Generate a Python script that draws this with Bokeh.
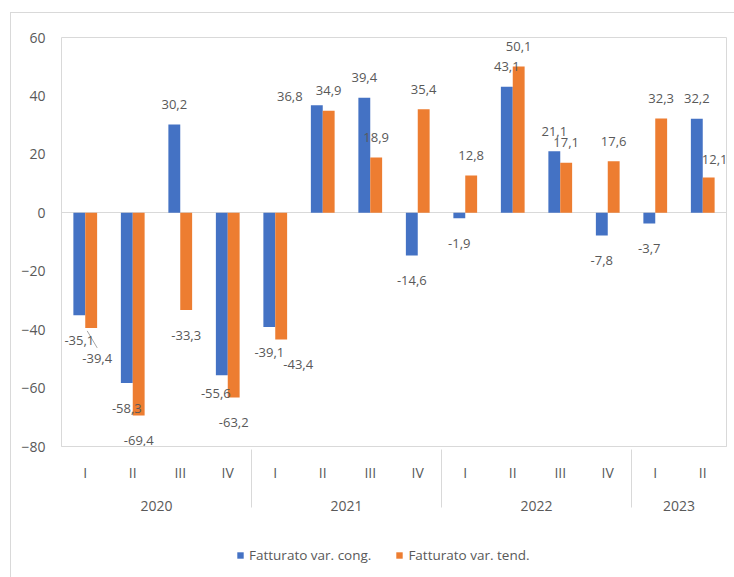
from bokeh.plotting import figure
from bokeh.layouts import column
from bokeh.models import (FactorRange, Range1d, ColumnDataSource, FixedTicker,
                          Legend, LegendItem)
from bokeh.transform import dodge
from bokeh.core.properties import value
from bokeh.embed import file_html
from bokeh.resources import INLINE

# ---- data -------------------------------------------------------------
years = ["2020", "2021", "2022", "2023"]
quarters = [["I", "II", "III", "IV"],
            ["I", "II", "III", "IV"],
            ["I", "II", "III", "IV"],
            ["I", "II"]]
var_cong = [-35.1, -58.3, 30.2, -55.6, -39.1, 36.8, 39.4, -14.6,
            -1.9, 43.1, 21.1, -7.8, -3.7, 32.2]
var_tend = [-39.4, -69.4, -33.3, -63.2, -43.4, 34.9, 18.9, 35.4,
            12.8, 50.1, 17.1, 17.6, 32.3, 12.1]
y_ticks = [-80, -60, -40, -20, 0, 20, 40, 60]
series_names = ["Fatturato var. cong.", "Fatturato var. tend."]

# extra pixel nudges for a few crowded value labels (dx, dy)
cong_nudge = [(0, 0), (0, 0), (0, 0), (-6, -7), (0, 0), (-27, 11), (0, 0),
              (0, 0), (0, 0), (0, 0), (0, 0), (0, 0), (0, 0), (0, 0)]
tend_nudge = [(6, 6), (0, 0), (0, 0), (0, 0), (17, 0), (0, 0), (0, 0),
              (0, 0), (0, 0), (0, 0), (0, 0), (0, 0), (0, 0), (6, 2)]
# value labels of the "tend" series that get a leader line to their bar
tend_leaders = [0]

BLUE = "#4472C4"
ORANGE = "#ED7D31"
TEXT = "#595959"
LINE = "#d9d9d9"
FONT = "Open Sans"

FRAME_W, FRAME_H = 665, 409
Y_MIN, Y_MAX = -80, 60

factors = [(y, q) for y, qs in zip(years, quarters) for q in qs]


def it_fmt(v):
    return f"{v:.1f}".replace(".", ",")


def label_offsets(vals, nudges):
    dx, dy = [], []
    for v, (nx, ny) in zip(vals, nudges):
        dx.append(nx)
        dy.append((-20 if v >= 0 else 25) + ny)
    return dx, dy


cdx, cdy = label_offsets(var_cong, cong_nudge)
tdx, tdy = label_offsets(var_tend, tend_nudge)

source = ColumnDataSource(dict(
    x=factors,
    cong=var_cong, tend=var_tend,
    cong_lbl=[it_fmt(v) for v in var_cong],
    tend_lbl=[it_fmt(v) for v in var_tend],
    cdx=cdx, cdy=cdy, tdx=tdx, tdy=tdy,
))

x_range = FactorRange(*factors, group_padding=0, factor_padding=0,
                      range_padding=0)

# ---- main chart ---------------------------------------------------------
p = figure(x_range=x_range, y_range=Range1d(Y_MIN, Y_MAX),
           frame_width=FRAME_W, frame_height=FRAME_H,
           output_backend="svg", toolbar_location=None,
           min_border_left=50, min_border_top=24, min_border_right=9,
           min_border_bottom=90)

p.outline_line_color = LINE
p.background_fill_color = "white"
p.border_fill_color = "white"

# zero line only
p.xgrid.visible = False
p.ygrid.ticker = FixedTicker(ticks=[0])
p.ygrid.grid_line_color = LINE

p.vbar(x=dodge("x", -0.125, range=x_range), top="cong", width=0.25,
       source=source, fill_color=BLUE, line_color=None)
p.vbar(x=dodge("x", 0.125, range=x_range), top="tend", width=0.25,
       source=source, fill_color=ORANGE, line_color=None)

# leader lines from a bar end towards its displaced value label
ux = len(factors) / FRAME_W          # category units per pixel
uy = (Y_MAX - Y_MIN) / FRAME_H        # value units per pixel
lx0, ly0, lx1, ly1 = [], [], [], []
for i in tend_leaders:
    xc = i + 0.5 + 0.125
    v = var_tend[i]
    lx0.append(xc - 4 * ux)
    ly0.append(v - 3 * uy)
    lx1.append(xc + tdx[i] * ux)
    ly1.append(v - (tdy[i] - 11) * uy)
p.segment(x0=lx0, y0=ly0, x1=lx1, y1=ly1, line_color="#a6a6a6", line_width=1)

p.text(x=dodge("x", -0.125, range=x_range), y="cong", text="cong_lbl",
       x_offset="cdx", y_offset="cdy", source=source,
       text_font=value(FONT), text_font_size="13px", text_color=TEXT,
       text_align="center", text_baseline="middle")
p.text(x=dodge("x", 0.125, range=x_range), y="tend", text="tend_lbl",
       x_offset="tdx", y_offset="tdy", source=source,
       text_font=value(FONT), text_font_size="13px", text_color=TEXT,
       text_align="center", text_baseline="middle")

# y axis
p.yaxis.ticker = FixedTicker(ticks=y_ticks)
p.yaxis.axis_line_color = None
p.yaxis.major_tick_line_color = None
p.yaxis.minor_tick_line_color = None
p.yaxis.major_tick_out = 0
p.yaxis.major_tick_in = 0
p.yaxis.major_label_standoff = 16
p.yaxis.major_label_text_font = FONT
p.yaxis.major_label_text_font_size = "14px"
p.yaxis.major_label_text_color = TEXT

# category axis
xa = p.xaxis[0]
xa.axis_line_color = LINE
xa.major_tick_line_color = None
xa.minor_tick_line_color = None
xa.major_tick_out = 0
xa.major_tick_in = 0
xa.major_label_standoff = 16
xa.major_label_text_font = FONT
xa.major_label_text_font_size = "14px"
xa.major_label_text_color = TEXT
xa.group_text_font = FONT
xa.group_text_font_size = "14px"
xa.group_text_font_style = "normal"
xa.group_text_color = TEXT
xa.separator_line_color = LINE
xa.separator_line_width = 1

# ---- legend strip under the chart -----------------------------------------
# the key renderers share the chart's source; the strip's y range keeps the
# bars themselves out of view so only the legend swatches show
key_xr = FactorRange(*factors, group_padding=0, factor_padding=0,
                     range_padding=0)
leg = figure(width=724, height=42, output_backend="svg", toolbar_location=None,
             x_range=key_xr, y_range=Range1d(1000, 1001),
             x_axis_type=None, y_axis_type=None, min_border=0)
leg.outline_line_color = None
leg.xgrid.visible = False
leg.ygrid.visible = False
leg.background_fill_color = "white"
leg.border_fill_color = "white"
k_cong = leg.vbar(x=dodge("x", -0.125, range=key_xr), top="cong", width=0.25,
                  source=source, fill_color=BLUE, line_color=None)
k_tend = leg.vbar(x=dodge("x", 0.125, range=key_xr), top="tend", width=0.25,
                  source=source, fill_color=ORANGE, line_color=None)

legend = Legend(items=[LegendItem(label=series_names[0], renderers=[k_cong]),
                       LegendItem(label=series_names[1], renderers=[k_tend])],
                orientation="horizontal", location=(175, 14),
                border_line_color=None, background_fill_alpha=0,
                glyph_width=8, glyph_height=8, label_standoff=5, spacing=24,
                label_text_font=FONT, label_text_font_size="13.5px",
                label_text_color=TEXT, padding=0, margin=0)
leg.add_layout(legend, "center")

page = column(p, leg, spacing=0)
page.margin = (12, 0, 0, 10)
page.styles = {"border-left": f"1px solid {LINE}",
               "border-top": f"1px solid {LINE}"}

open("out.html", "w").write(file_html(page, INLINE))
